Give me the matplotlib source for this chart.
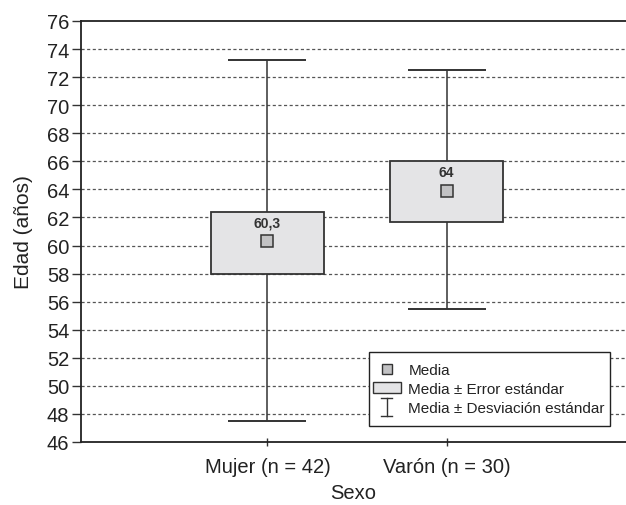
import matplotlib
matplotlib.use("Agg")
import matplotlib.pyplot as plt
from matplotlib.patches import Rectangle
from matplotlib.lines import Line2D
from matplotlib.legend_handler import HandlerBase

plt.rcParams['font.family'] = ['Liberation Sans', 'DejaVu Sans']

categories = ["Mujer (n = 42)", "Varón (n = 30)"]
means = [60.3, 63.9]
mean_labels = ["60,3", "64"]
se_low = [58.0, 61.7]
se_high = [62.4, 66.0]
sd_low = [47.5, 55.5]
sd_high = [73.25, 72.5]
yticks = list(range(46, 77, 2))

edge = "#333333"
box_fill = "#e4e4e6"
mean_fill = "#c2c2c4"

W, H = 626, 506
fig = plt.figure(figsize=(W/100, H/100), dpi=100)
ax = fig.add_axes([81/W, 63/H, 1 - 81/W, (443-22)/H])

box_w = 0.63
cap_w = 0.435
for i in range(len(categories)):
    ax.vlines(i, sd_low[i], sd_high[i], color=edge, lw=1.1, zorder=2)
    ax.hlines([sd_low[i], sd_high[i]], i - cap_w/2, i + cap_w/2, color=edge, lw=1.4, zorder=2)
    ax.add_patch(Rectangle((i - box_w/2, se_low[i]), box_w, se_high[i] - se_low[i],
                           facecolor=box_fill, edgecolor=edge, lw=1.3, zorder=3))
    ax.plot(i, means[i], marker='s', ms=8.5, mfc=mean_fill, mec=edge, mew=1.1, zorder=4)
    ax.annotate(mean_labels[i], (i, means[i]), xytext=(0, 8.5), textcoords='offset points',
                ha='center', va='bottom', fontsize=10, fontweight='bold', color=edge, zorder=5)

ax.set_xlim(-1.04, 2.0)
ax.set_ylim(46, 76)
ax.set_yticks(yticks)
ax.set_xticks(range(len(categories)))
ax.set_xticklabels(categories)
ax.tick_params(axis='y', labelsize=14.5, direction='out', length=6.5, width=1, color=edge, pad=2, labelcolor='#222222')
ax.tick_params(axis='x', labelsize=14.5, direction='inout', length=6, width=1, color=edge, pad=8, labelcolor='#222222')
for y in yticks[1:-1]:
    ax.axhline(y, color='#555555', lw=0.9, ls=(0, (2.5, 2)), zorder=1)

for s in ['left', 'bottom', 'top']:
    ax.spines[s].set_color('#222222')
    ax.spines[s].set_linewidth(1.3)
ax.spines['right'].set_visible(False)

ax.set_ylabel("Edad (años)", fontsize=15, color='#222222', labelpad=10)
ax.set_xlabel("Sexo", fontsize=14.5, color='#222222', labelpad=5)


class ErrHandler(HandlerBase):
    def create_artists(self, legend, orig_handle, xdescent, ydescent, width, height, fontsize, trans):
        cx = width / 2 - xdescent
        y0 = -ydescent - 3
        y1 = height - ydescent + 2
        cw = 4
        lines = [
            Line2D([cx, cx], [y0, y1], color=edge, lw=1.0, transform=trans),
            Line2D([cx - cw, cx + cw], [y0, y0], color=edge, lw=1.0, transform=trans),
            Line2D([cx - cw, cx + cw], [y1, y1], color=edge, lw=1.0, transform=trans),
        ]
        return lines


# legend frame (drawn separately for unequal padding)
fig.patches.append(Rectangle((369/W, 1 - 427/H), (610-369)/W, (427-353)/H,
                             transform=fig.transFigure, facecolor='white',
                             edgecolor='#222222', lw=1.0, zorder=5))

h_mean = Line2D([], [], ls='none', marker='s', ms=7, mfc=mean_fill, mec=edge, mew=1.0)
h_se = Rectangle((0, 0), 1, 1, facecolor=box_fill, edgecolor=edge, lw=1.0)
h_sd = object()
leg = fig.legend([h_mean, h_se, h_sd],
                 ["Media", "Media ± Error estándar", "Media ± Desviación estándar"],
                 handler_map={object: ErrHandler()},
                 loc='center', bbox_to_anchor=(489/W, 1 - 390/H),
                 fontsize=11, frameon=False,
                 borderpad=0, labelspacing=0.3, handlelength=1.8, handletextpad=0.5, borderaxespad=0)
leg.set_zorder(6)
for t in leg.get_texts():
    t.set_color('#222222')

fig.savefig("out.png", dpi=100)
